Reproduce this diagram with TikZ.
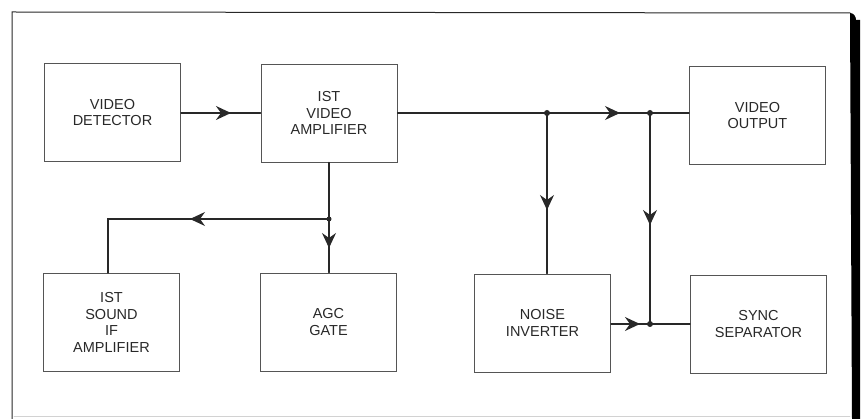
\documentclass[tikz,border=0pt]{standalone}
\usepackage{fontspec}
\setmainfont{Liberation Sans}
\usepackage{tikz}
\usetikzlibrary{arrows.meta,decorations.markings}
\definecolor{inkc}{RGB}{40,40,40}
\definecolor{edgec}{RGB}{85,85,85}

\tikzset{
  block/.style={draw=edgec, line width=0.9pt, minimum width=136pt, minimum height=98pt,
    inner sep=0pt, align=center, font=\fontsize{14.5pt}{16.5pt}\selectfont, text=inkc},
  wire/.style={inkc, line width=1.2pt},
  flow/.style={wire, postaction={decorate}, decoration={markings,
    mark=at position #1 with {\arrow{Stealth[length=15pt,width=14pt,inset=5pt]}}}},
  dot/.style={circle, fill=inkc, inner sep=0pt, minimum size=6pt}
}

\begin{document}
\begin{tikzpicture}[x=1pt, y=-1pt, line cap=round]
  \useasboundingbox (0,0) rectangle (863,419);

  % frame round the diagram
  \draw[inkc, line width=1pt] (12,419) -- (12,12) -- (850,13);
  \draw[gray!35, line width=0.8pt] (14,416) -- (850,416);
  \fill[black] (850,13) to[out=0,in=90] (856,20) -- (860,20) -- (860,419) -- (852,419) -- cycle;

  % blocks, top row
  \node[block] (det) at (112.5,112.5) {VIDEO\\DETECTOR};
  \node[block] (amp) at (329,113) {IST\\VIDEO\\AMPLIFIER};
  \node[block] (out) at (757.5,115.5) {VIDEO\\OUTPUT};
  % blocks, bottom row
  \node[block] (snd) at (111.5,322.5) {IST\\SOUND\\IF\\AMPLIFIER};
  \node[block] (agc) at (328.5,322) {AGC\\GATE};
  \node[block] (noi) at (542.5,323) {NOISE\\INVERTER};
  \node[block] (syn) at (758.5,324) {SYNC\\SEPARATOR};

  % junctions
  \node[dot] (j1) at (547,113) {};
  \node[dot] (j2) at (650,113) {};
  \node[dot] (j3) at (650,324) {};
  \node[dot, minimum size=5pt] (j4) at (329,219) {};
  \coordinate (bend) at (108,219);

  % signal paths
  \draw[flow=50pt] (det.east |- 0,113) -- (amp.west |- 0,113);
  \draw[wire] (amp.east |- 0,113) -- (j1.center);
  \draw[flow=73pt] (j1.center) -- (j2.center);
  \draw[wire] (j2.center) -- (out.west |- j2);
  \draw[flow=97pt] (j1.center) -- (j1 |- noi.north);
  \draw[flow=112pt] (j2.center) -- (j3.center);
  \draw[flow=29pt] (noi.east |- j3) -- (j3.center);
  \draw[wire] (j3.center) -- (syn.west |- j3);
  \draw[wire] (amp.south) -- (j4.center);
  \draw[flow=29pt] (j4.center) -- (agc.north -| j4);
  \draw[flow=139pt] (j4.center) -- (bend) -- (bend |- snd.north);
\end{tikzpicture}
\end{document}
